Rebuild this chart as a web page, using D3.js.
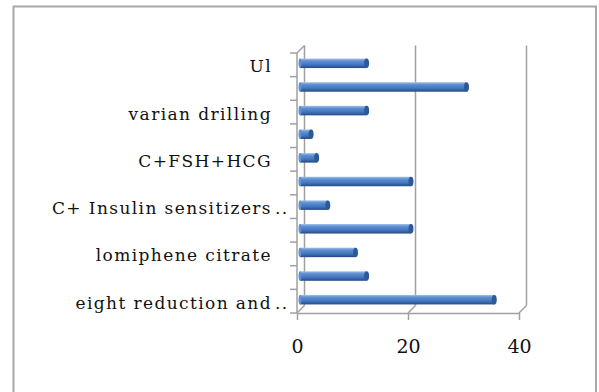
<!DOCTYPE html>
<html>
<head>
<meta charset="utf-8">
<script src="https://cdn.jsdelivr.net/npm/d3@7"></script>
<style>
  body { margin: 0; background: #fff; }
  svg text { font-family: "DejaVu Serif", serif; fill: #111; }
</style>
</head>
<body>
<svg id="chart"></svg>
<script>
// categories listed bottom-up, as Excel draws them
const categories = ["c1", "c2", "c3", "c4", "c5", "c6", "c7", "c8", "c9", "c10", "c11"];
const tickLabels = ["eight reduction and ..", "", "lomiphene citrate", "", "C+ Insulin sensitizers ..", "",
                    "C+FSH+HCG", "", "varian drilling", "", "Ul"];
const values = [35, 12, 10, 20, 5, 20, 3, 2, 12, 30, 12];
const xTicks = [0, 20, 40];

const width = 599;
const height = 392;
const depth = { dx: 7.5, dy: -7.5 };   // back wall offset (fake 3d)

const svg = d3.select("#chart")
    .attr("width", width)
    .attr("height", height);

// outer chart border
svg.append("rect")
    .attr("x", 13.5)
    .attr("y", 6.5)
    .attr("width", 582.5)
    .attr("height", 420)
    .attr("fill", "none")
    .attr("stroke", "#a8a8a8")
    .attr("stroke-width", 2);

const x = d3.scaleLinear().domain([0, 40]).range([297, 519]);
const y = d3.scaleBand()
    .domain(d3.range(categories.length).reverse())
    .range([53, 313]);

const [plotTop, plotBottom] = y.range();
const grid = "#a0a0a0";

// back wall gridlines + floor diagonals
const walls = svg.append("g").attr("stroke", grid).attr("stroke-width", 1.5).attr("fill", "none");
xTicks.forEach(t => {
    walls.append("line")
        .attr("x1", x(t) + depth.dx).attr("x2", x(t) + depth.dx)
        .attr("y1", plotTop + depth.dy).attr("y2", plotBottom + depth.dy);
    walls.append("line")
        .attr("x1", x(t)).attr("x2", x(t) + depth.dx)
        .attr("y1", plotBottom).attr("y2", plotBottom + depth.dy);
});
// left wall top edge
walls.append("line")
    .attr("x1", x(0)).attr("x2", x(0) + depth.dx)
    .attr("y1", plotTop).attr("y2", plotTop + depth.dy);

// bottom axis (front edge of the floor)
const xAxis = svg.append("g")
    .attr("transform", `translate(0,${plotBottom})`)
    .call(d3.axisBottom(x).tickValues(xTicks).tickSize(7).tickPadding(20).tickSizeOuter(0));
xAxis.select(".domain").attr("stroke", grid).attr("stroke-width", 1.5);
xAxis.selectAll(".tick line").attr("stroke", grid).attr("stroke-width", 1.5);
xAxis.selectAll("text")
    .style("font-family", "DejaVu Serif, serif")
    .style("font-size", "19px")
    .attr("fill", "#111");

// left axis (front edge of the left wall), ticks between categories
const leftAxis = svg.append("g").attr("stroke", grid).attr("stroke-width", 1.5);
leftAxis.append("line")
    .attr("x1", x(0)).attr("x2", x(0))
    .attr("y1", plotTop).attr("y2", plotBottom);
const bounds = y.domain().map(d => y(d)).concat([plotBottom]);
leftAxis.selectAll(".ytick")
    .data(bounds)
    .enter()
    .append("line")
    .attr("x1", x(0) - 7).attr("x2", x(0))
    .attr("y1", d => d).attr("y2", d => d);

// category labels (only every other one is shown)
const labels = svg.append("g").style("font-size", "17px").style("letter-spacing", "1.4px");
tickLabels.forEach((lab, i) => {
    if (!lab) return;
    const cy = y(i) + y.bandwidth() / 2 + 3;
    const cut = lab.endsWith(" ..");
    labels.append("text")
        .attr("x", x(0) - 25)
        .attr("y", cy)
        .attr("dominant-baseline", "middle")
        .attr("text-anchor", "end")
        .text(cut ? lab.slice(0, -3) : lab);
    if (cut) {
        labels.append("text")
            .attr("x", x(0) - 22)
            .attr("y", cy)
            .attr("dominant-baseline", "middle")
            .text("..");
    }
});

// bar shading
const defs = svg.append("defs");
const grad = defs.append("linearGradient")
    .attr("id", "barFill")
    .attr("x1", 0).attr("y1", 0).attr("x2", 0).attr("y2", 1);
[["0%", "#a3c0e9"], ["25%", "#5f8fd3"], ["65%", "#4275bd"], ["100%", "#234a82"]]
    .forEach(s => grad.append("stop").attr("offset", s[0]).attr("stop-color", s[1]));

const barH = 9.5;
const bars = svg.append("g");
values.forEach((v, i) => {
    const cy = y(i) + y.bandwidth() / 2 - 1.5;
    const x0 = x(0) + 3;
    const x1 = x(v) + 3;
    bars.append("rect")
        .attr("x", x0)
        .attr("y", cy - barH / 2)
        .attr("width", x1 - x0)
        .attr("height", barH)
        .attr("fill", "url(#barFill)");
    bars.append("ellipse")
        .attr("cx", x1)
        .attr("cy", cy)
        .attr("rx", 2.5)
        .attr("ry", barH / 2)
        .attr("fill", "#2d5a96");
    bars.append("ellipse")
        .attr("cx", x0)
        .attr("cy", cy)
        .attr("rx", 1.5)
        .attr("ry", barH / 2)
        .attr("fill", "#5f8fd3");
});
</script>
</body>
</html>
